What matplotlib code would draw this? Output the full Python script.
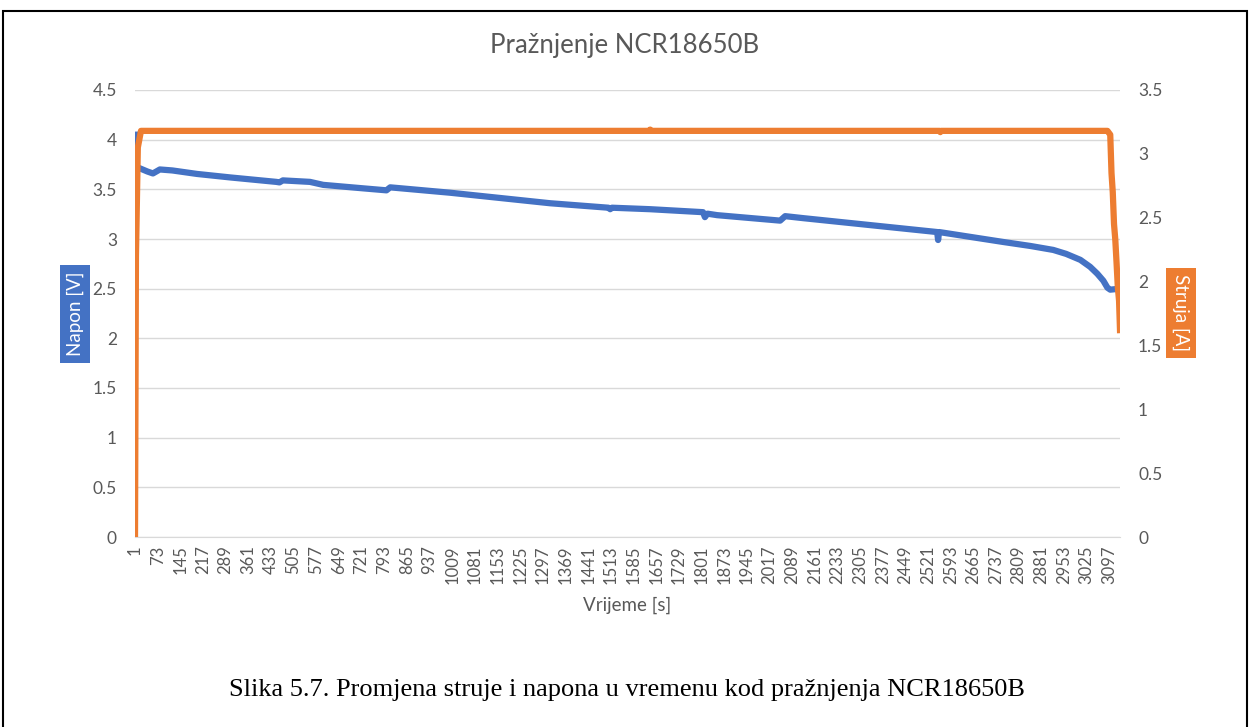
import matplotlib.pyplot as plt
from matplotlib.patches import Rectangle

# sample index [s] and voltage [V]
napon_t = [1, 2, 10, 40, 58, 80, 120, 198, 303, 450, 460, 471, 557, 599, 726,
           800, 812, 1002, 1320, 1505, 1511, 1517, 1638, 1806, 1812, 1820,
           1851, 2051, 2067, 2124, 2337, 2550, 2553, 2556, 2760, 2846, 2919,
           2960, 3005, 3036, 3059, 3078, 3091, 3100, 3131]
napon_v = [4.05, 3.74, 3.72, 3.68, 3.66, 3.70, 3.69, 3.655, 3.62, 3.575, 3.57,
           3.59, 3.575, 3.545, 3.51, 3.49, 3.52, 3.466, 3.36, 3.315, 3.30,
           3.315, 3.30, 3.27, 3.22, 3.255, 3.24, 3.185, 3.23, 3.21, 3.14,
           3.07, 2.99, 3.07, 2.97, 2.93, 2.89, 2.85, 2.79, 2.72, 2.65, 2.58,
           2.51, 2.49, 2.50]

# sample index [s] and current [A]
struja_t = [1, 4, 10, 20, 1636, 1638, 1640, 2558, 2560, 2562, 3091, 3100,
            3104, 3108, 3112, 3116, 3120, 3124, 3128, 3131]
struja_a = [0.0, 2.2, 3.05, 3.18, 3.18, 3.19, 3.18, 3.18, 3.17, 3.18, 3.18,
            3.15, 2.85, 2.70, 2.45, 2.33, 2.15, 1.96, 1.85, 1.62]

x_ticks = list(range(1, 3098, 72))
y_left_ticks = [0, 0.5, 1, 1.5, 2, 2.5, 3, 3.5, 4, 4.5]
y_right_ticks = [0, 0.5, 1, 1.5, 2, 2.5, 3, 3.5]

BLUE = '#4472C4'
ORANGE = '#ED7D31'
GREY = '#595959'
GRID = '#D9D9D9'
SANS = ['Lato', 'DejaVu Sans']


def fmt(v):
    return f"{v:g}"


fig = plt.figure(figsize=(12.5, 7.27), dpi=100)
ax = fig.add_axes([135 / 1250, 1 - 537 / 727, 985 / 1250, 447 / 727])
ax2 = ax.twinx()

ax.plot(napon_t, napon_v, color=BLUE, lw=4.5, solid_joinstyle='round')
ax2.plot(struja_t, struja_a, color=ORANGE, lw=4.5, solid_joinstyle='round')

ax.set_xlim(1, 3131)
ax.set_ylim(0, 4.5)
ax2.set_ylim(0, 3.5)

ax.set_yticks(y_left_ticks)
ax.set_yticklabels([fmt(v) for v in y_left_ticks], family=SANS, fontsize=12.5, color=GREY)
ax2.set_yticks(y_right_ticks)
ax2.set_yticklabels([fmt(v) for v in y_right_ticks], family=SANS, fontsize=12.5, color=GREY)
ax.set_xticks(x_ticks)
ax.set_xticklabels([str(v) for v in x_ticks], rotation=90, family=SANS,
                   fontsize=12, color=GREY)

ax.tick_params(axis='y', length=0, pad=13)
ax2.tick_params(axis='y', length=0, pad=13)
ax.tick_params(axis='x', length=0, pad=6)
ax.grid(axis='y', color=GRID, lw=1)
ax.set_axisbelow(True)
for a in (ax, ax2):
    for s in a.spines.values():
        s.set_visible(False)
ax.spines['bottom'].set_visible(True)
ax.spines['bottom'].set_color(GRID)

ax.set_xlabel('Vrijeme [s]', family=SANS, fontsize=13.5, color=GREY, labelpad=9)

# axis titles in coloured boxes
fig.text(75 / 1250, 1 - 314 / 727, 'Napon [V]', rotation=90, ha='center', va='center',
         family=SANS, fontsize=13.5, color='white',
         bbox=dict(boxstyle='square,pad=0.35', fc=BLUE, ec='none'))
fig.text(1181 / 1250, 1 - 313 / 727, 'Struja [A]', rotation=270, ha='center', va='center',
         family=SANS, fontsize=13.5, color='white',
         bbox=dict(boxstyle='square,pad=0.35', fc=ORANGE, ec='none'))

fig.text(0.5, 1 - 46 / 727, 'Pražnjenje NCR18650B', ha='center', va='center',
         family=SANS, fontsize=18.5, color=GREY)

fig.text(627 / 1250, 1 - 690 / 727,
         'Slika 5.7. Promjena struje i napona u vremenu kod pražnjenja NCR18650B',
         ha='center', va='center', family=['Liberation Serif', 'DejaVu Serif'],
         fontsize=19, color='black')

# outer frame
fig.patches.append(Rectangle((3 / 1250, -0.01), 1244 / 1250, 1 - 11 / 727 + 0.01,
                             transform=fig.transFigure, fill=False,
                             ec='black', lw=1.5))

fig.savefig('out.png', dpi=100)
